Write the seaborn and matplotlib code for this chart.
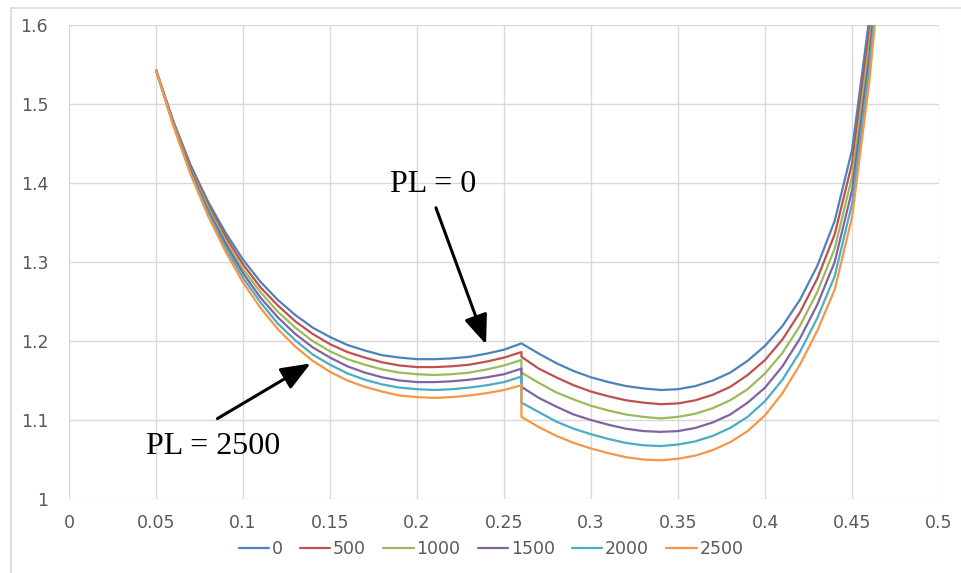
import matplotlib
matplotlib.use("Agg")
import matplotlib.pyplot as plt
import seaborn as sns
import pandas as pd
from matplotlib.lines import Line2D

# x positions: left branch 0.05..0.26, right branch 0.26..0.47 (jump at 0.26)
x_left = [0.05, 0.06, 0.07, 0.08, 0.09, 0.10, 0.11, 0.12, 0.13, 0.14, 0.15,
          0.16, 0.17, 0.18, 0.19, 0.20, 0.21, 0.22, 0.23, 0.24, 0.25, 0.26]
x_right = [0.26, 0.27, 0.28, 0.29, 0.30, 0.31, 0.32, 0.33, 0.34, 0.35, 0.36,
           0.37, 0.38, 0.39, 0.40, 0.41, 0.42, 0.43, 0.44, 0.45, 0.46, 0.47]

pl_0_left = [1.543, 1.478, 1.422, 1.376, 1.337, 1.303, 1.275, 1.252, 1.233, 1.217, 1.205,
             1.195, 1.188, 1.182, 1.179, 1.177, 1.177, 1.178, 1.180, 1.184, 1.189, 1.197]
pl_0_right = [1.197, 1.184, 1.172, 1.162, 1.154, 1.148, 1.143, 1.140, 1.138, 1.139, 1.143,
              1.150, 1.160, 1.175, 1.194, 1.219, 1.252, 1.295, 1.352, 1.442, 1.610, 1.850]

pl_500_left = [1.543, 1.477, 1.420, 1.372, 1.332, 1.297, 1.268, 1.245, 1.225, 1.209, 1.196,
               1.186, 1.179, 1.173, 1.169, 1.167, 1.167, 1.168, 1.170, 1.174, 1.179, 1.186]
pl_500_right = [1.180, 1.165, 1.154, 1.144, 1.136, 1.130, 1.125, 1.122, 1.120, 1.121, 1.125,
                1.132, 1.142, 1.157, 1.176, 1.202, 1.236, 1.279, 1.335, 1.425, 1.594, 1.832]

pl_1000_left = [1.543, 1.476, 1.417, 1.369, 1.327, 1.291, 1.262, 1.237, 1.217, 1.200, 1.187,
                1.177, 1.170, 1.164, 1.160, 1.158, 1.157, 1.158, 1.160, 1.164, 1.169, 1.176]
pl_1000_right = [1.160, 1.147, 1.135, 1.126, 1.118, 1.112, 1.107, 1.104, 1.102, 1.104, 1.108,
                 1.115, 1.125, 1.139, 1.159, 1.185, 1.219, 1.262, 1.317, 1.408, 1.578, 1.814]

pl_1500_left = [1.543, 1.474, 1.415, 1.365, 1.323, 1.286, 1.255, 1.230, 1.209, 1.192, 1.179,
                1.168, 1.160, 1.154, 1.150, 1.148, 1.148, 1.149, 1.151, 1.154, 1.158, 1.165]
pl_1500_right = [1.142, 1.128, 1.117, 1.107, 1.100, 1.094, 1.089, 1.086, 1.085, 1.086, 1.090,
                 1.097, 1.107, 1.122, 1.141, 1.168, 1.203, 1.246, 1.300, 1.391, 1.562, 1.796]

pl_2000_left = [1.543, 1.473, 1.412, 1.362, 1.318, 1.280, 1.249, 1.222, 1.201, 1.183, 1.170,
                1.159, 1.151, 1.145, 1.141, 1.139, 1.138, 1.139, 1.141, 1.144, 1.148, 1.155]
pl_2000_right = [1.122, 1.110, 1.098, 1.089, 1.082, 1.076, 1.071, 1.068, 1.067, 1.069, 1.073,
                 1.080, 1.090, 1.104, 1.124, 1.151, 1.186, 1.229, 1.282, 1.374, 1.546, 1.778]

pl_2500_left = [1.543, 1.472, 1.410, 1.358, 1.313, 1.274, 1.242, 1.215, 1.193, 1.175, 1.161,
                1.150, 1.142, 1.136, 1.131, 1.129, 1.128, 1.129, 1.131, 1.134, 1.138, 1.144]
pl_2500_right = [1.104, 1.091, 1.080, 1.071, 1.064, 1.058, 1.053, 1.050, 1.049, 1.051, 1.055,
                 1.062, 1.072, 1.086, 1.106, 1.134, 1.170, 1.213, 1.265, 1.357, 1.530, 1.760]

series_labels = ["0", "500", "1000", "1500", "2000", "2500"]
series_values = [
    pl_0_left + pl_0_right,
    pl_500_left + pl_500_right,
    pl_1000_left + pl_1000_right,
    pl_1500_left + pl_1500_right,
    pl_2000_left + pl_2000_right,
    pl_2500_left + pl_2500_right,
]
colors = ["#4F81BD", "#C0504D", "#9BBB59", "#8064A2", "#4BACC6", "#F79646"]

xtick_vals = [0, 0.05, 0.1, 0.15, 0.2, 0.25, 0.3, 0.35, 0.4, 0.45, 0.5]
xtick_labels = ["0", "0.05", "0.1", "0.15", "0.2", "0.25", "0.3",
                "0.35", "0.4", "0.45", "0.5"]
ytick_vals = [1.0, 1.1, 1.2, 1.3, 1.4, 1.5, 1.6]
ytick_labels = ["1", "1.1", "1.2", "1.3", "1.4", "1.5", "1.6"]

# long table for seaborn
x_all = x_left + x_right
frames = []
for label, vals in zip(series_labels, series_values):
    frames.append(pd.DataFrame({"x": x_all, "y": vals, "PL": label}))
df = pd.concat(frames, ignore_index=True)

sns.set_theme(style="white")
plt.rcParams["font.family"] = ["DejaVu Sans"]
plt.rcParams["font.sans-serif"] = ["DejaVu Sans"]

fig = plt.figure(figsize=(9.61, 5.73), dpi=100)
ax = fig.add_axes([0.0718, 0.1291, 0.9054, 0.8273])

sns.lineplot(data=df, x="x", y="y", hue="PL", hue_order=series_labels,
             palette=colors, estimator=None, sort=False, linewidth=1.6,
             ax=ax, legend=True)

ax.set_xlim(0, 0.5)
ax.set_ylim(1.0, 1.6)
ax.set_xticks(xtick_vals)
ax.set_xticklabels(xtick_labels, fontfamily="DejaVu Sans", fontsize=12.5)
ax.set_yticks(ytick_vals)
ax.set_yticklabels(ytick_labels, fontfamily="DejaVu Sans", fontsize=12.5)
ax.set_xlabel("")
ax.set_ylabel("")
ax.grid(True, color="#D9D9D9", linewidth=1.0)
ax.set_axisbelow(True)
for side in ["top", "right", "left", "bottom"]:
    ax.spines[side].set_visible(False)
ax.tick_params(axis="both", length=0, colors="#595959")
ax.tick_params(axis="y", pad=15)
ax.tick_params(axis="x", pad=11)

# annotations with arrows
arrow_style = "-|>,head_length=1.5,head_width=0.6"
ax.annotate("", xy=(0.2402, 1.1924), xytext=(0.2103, 1.372),
            arrowprops=dict(arrowstyle=arrow_style, color="black", lw=2.2))
ax.annotate("", xy=(0.1402, 1.1734), xytext=(0.0839, 1.100),
            arrowprops=dict(arrowstyle=arrow_style, color="black", lw=2.2))
ax.text(0.2092, 1.398, "PL = 0", family=["Liberation Serif"], fontsize=23,
        ha="center", va="center", color="black")
ax.text(0.0828, 1.067, "PL = 2500", family=["Liberation Serif"], fontsize=23,
        ha="center", va="center", color="black")

# legend at the bottom, centered
handles, labels = ax.get_legend_handles_labels()
ax.get_legend().remove()
fig.legend(handles, labels, loc="center", bbox_to_anchor=(0.511, 0.042),
           ncol=6, frameon=False, prop={"family": "DejaVu Sans", "size": 12.5},
           handlelength=1.75, handletextpad=0.15, columnspacing=1.0,
           labelcolor="#595959")

# chart area border (top and left edges visible)
fig.add_artist(Line2D([11 / 961, 1.0], [1 - 8 / 573, 1 - 8 / 573],
                      color="#D9D9D9", linewidth=1.2))
fig.add_artist(Line2D([11 / 961, 11 / 961], [0.0, 1 - 8 / 573],
                      color="#D9D9D9", linewidth=1.2))

plt.savefig("out.png", dpi=100)
plt.close()
